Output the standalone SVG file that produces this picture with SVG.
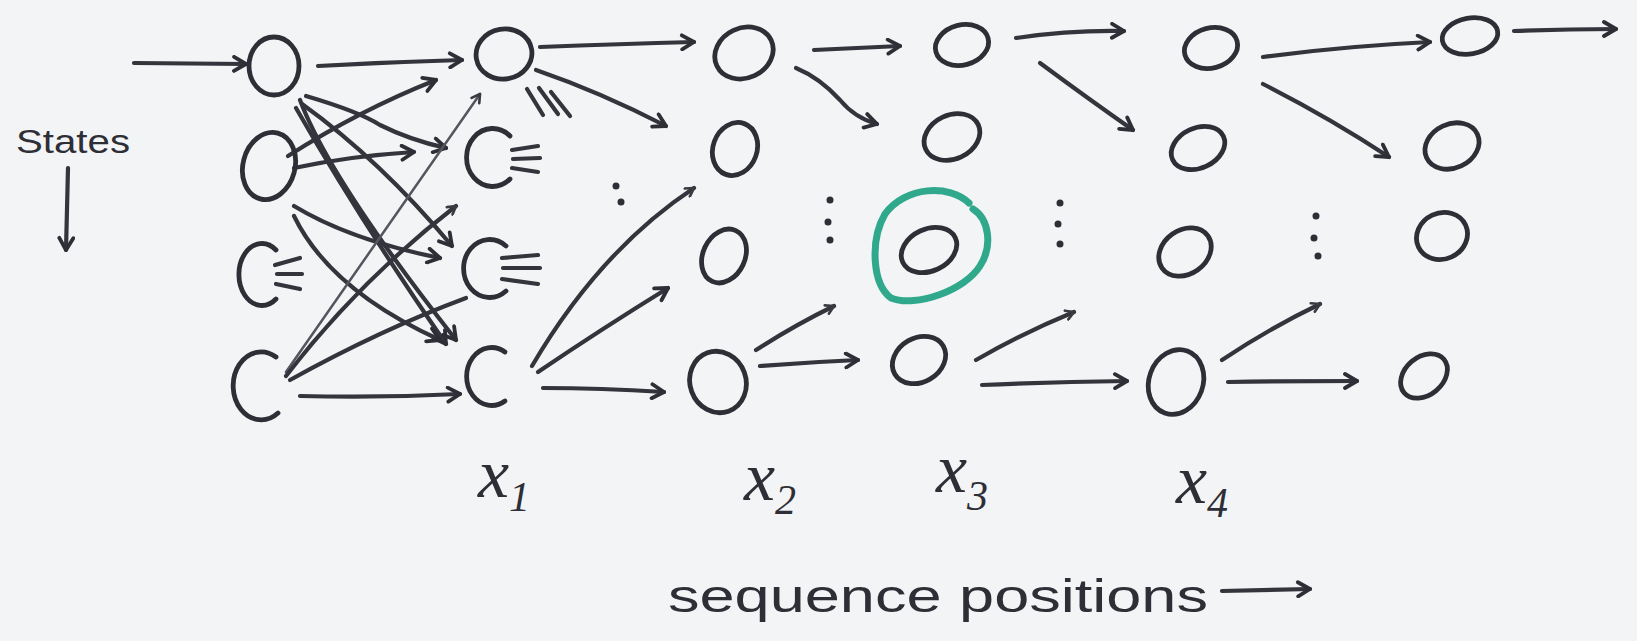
<svg xmlns="http://www.w3.org/2000/svg" width="1637" height="641" viewBox="0 0 1637 641">
<style>
.bg{fill:#f3f4f6}
.n{fill:none;stroke:#2e2e36;stroke-width:4.8;stroke-linecap:round;stroke-linejoin:round}
.e{fill:none;stroke:#34343c;stroke-width:4.2;stroke-linecap:round;stroke-linejoin:round}
.thin{fill:none;stroke:#55555f;stroke-width:2.5;stroke-linecap:round}
.dot{fill:#2e2e36}
.hl{fill:none;stroke:#2fa88c;stroke-width:7;stroke-linejoin:round;stroke-linecap:round}
.lbl{font-family:"Liberation Serif",serif;font-style:italic;fill:#2e2e36}
.hand{font-family:"Liberation Sans",sans-serif;fill:#2e2e36}
</style>
<defs>
<marker id="ah" viewBox="0 0 18 18" refX="15" refY="9" markerWidth="18" markerHeight="18" markerUnits="userSpaceOnUse" orient="auto">
<path d="M3,2 L15,9 L3,16" fill="none" stroke="#2e2e36" stroke-width="3.8" stroke-linecap="round" stroke-linejoin="round"/>
</marker>
<marker id="ahs" viewBox="0 0 18 18" refX="15" refY="9" markerWidth="12" markerHeight="12" markerUnits="userSpaceOnUse" orient="auto">
<path d="M3,2 L15,9 L3,16" fill="none" stroke="#3a3a42" stroke-width="4" stroke-linecap="round" stroke-linejoin="round"/>
</marker>
</defs>
<rect class="bg" x="0" y="0" width="1637" height="641"/>

<g id="connectors">
<!-- incoming -->
<path class="e" d="M134,63 L246,64" marker-end="url(#ah)"/>
<!-- col0 -> col1 -->
<path class="e" d="M318,66 Q390,62 462,60" marker-end="url(#ah)"/>
<path class="e" d="M306,96 Q360,112 380,125 Q410,140 446,148" marker-end="url(#ah)"/>
<path class="e" d="M302,104 Q380,160 452,246" marker-end="url(#ah)"/>
<path class="e" d="M296,108 Q360,220 446,344" marker-end="url(#ah)"/>
<path class="e" d="M300,100 Q330,180 456,340" marker-end="url(#ah)"/>
<path class="e" d="M288,156 Q360,110 436,80" marker-end="url(#ah)"/>
<path class="e" d="M294,168 Q350,156 414,152" marker-end="url(#ah)"/>
<path class="e" d="M294,206 Q350,240 440,258" marker-end="url(#ah)"/>
<path class="e" d="M294,216 Q330,290 440,340" marker-end="url(#ah)"/>
<path class="thin" d="M286,372 L480,94" marker-end="url(#ahs)"/>
<path class="e" d="M286,376 Q360,280 456,206" marker-end="url(#ahs)"/>
<path class="e" d="M290,380 Q380,330 466,298"/>
<path class="e" d="M300,396 Q380,398 460,394" marker-end="url(#ah)"/>
<!-- col1 -> col2 -->
<path class="e" d="M540,47 Q620,44 694,42" marker-end="url(#ah)"/>
<path class="e" d="M536,70 Q600,92 666,126" marker-end="url(#ah)"/>
<path class="e" d="M532,366 Q600,250 694,188" marker-end="url(#ahs)"/>
<path class="e" d="M538,372 Q600,330 668,288" marker-end="url(#ah)"/>
<path class="e" d="M543,388 Q600,388 664,392" marker-end="url(#ah)"/>
<!-- col2 -> col3 -->
<path class="e" d="M814,50 Q860,48 900,46" marker-end="url(#ah)"/>
<path class="e" d="M796,68 Q820,78 840,100 Q855,118 877,124" marker-end="url(#ah)"/>
<path class="e" d="M756,350 Q795,325 834,306" marker-end="url(#ahs)"/>
<path class="e" d="M760,366 Q810,362 858,360" marker-end="url(#ah)"/>
<!-- col3 -> col4 -->
<path class="e" d="M1016,38 Q1070,30 1124,31" marker-end="url(#ah)"/>
<path class="e" d="M1040,63 Q1090,100 1133,130" marker-end="url(#ah)"/>
<path class="e" d="M976,360 Q1025,332 1074,312" marker-end="url(#ahs)"/>
<path class="e" d="M982,385 Q1055,382 1127,381" marker-end="url(#ah)"/>
<!-- col4 -> col5 -->
<path class="e" d="M1263,57 Q1345,46 1430,42" marker-end="url(#ah)"/>
<path class="e" d="M1263,84 Q1330,118 1389,157" marker-end="url(#ah)"/>
<path class="e" d="M1222,360 Q1270,328 1320,304" marker-end="url(#ahs)"/>
<path class="e" d="M1228,382 Q1292,381 1357,381" marker-end="url(#ah)"/>
<!-- outgoing -->
<path class="e" d="M1514,31 Q1565,29 1616,29" marker-end="url(#ah)"/>
</g>

<g id="stubs">
<path class="e" d="M527,89 L543,115 M539,88 L558,114 M551,92 L570,116"/>
<path class="e" d="M512,150 L538,146 M513,159 L540,158 M512,168 L538,172"/>
<path class="e" d="M502,258 L538,255 M503,268 L540,268 M502,279 L538,284"/>
<path class="e" d="M275,265 L300,258 M277,274 L302,274 M276,284 L300,289"/>
</g>

<g id="dots">
<circle class="dot" cx="616" cy="186" r="3.5"/><circle class="dot" cx="621" cy="202" r="3.5"/>
<circle class="dot" cx="830" cy="200" r="3.5"/><circle class="dot" cx="828" cy="222" r="3.5"/><circle class="dot" cx="830" cy="240" r="3.5"/>
<circle class="dot" cx="1060" cy="203" r="3.5"/><circle class="dot" cx="1058" cy="224" r="3.5"/><circle class="dot" cx="1060" cy="244" r="3.5"/>
<circle class="dot" cx="1316" cy="216" r="3.5"/><circle class="dot" cx="1314" cy="238" r="3.5"/><circle class="dot" cx="1318" cy="256" r="3.5"/>
</g>

<g id="n0_0"><ellipse class="n" cx="274" cy="66" rx="25" ry="29"/></g>
<g id="n0_1"><ellipse class="n" cx="269" cy="166" rx="26" ry="34" transform="rotate(15 269 166)"/></g>
<g id="n0_2"><path class="n" d="M276,250 A23,31 0 1 0 276,299"/></g>
<g id="n0_3"><path class="n" d="M276,357 A28,34 0 1 0 278,413"/></g>

<g id="n1_0"><ellipse class="n" cx="504" cy="54" rx="28" ry="25" transform="rotate(-10 504 54)"/></g>
<g id="n1_1"><path class="n" d="M510,136 A26,29 0 1 0 510,179"/></g>
<g id="n1_2"><path class="n" d="M506,246 A26,29 0 1 0 506,291"/></g>
<g id="n1_3"><path class="n" d="M505,352 A25,29 0 1 0 505,401"/></g>

<g id="n2_0"><ellipse class="n" cx="744" cy="53" rx="30" ry="25" transform="rotate(-25 744 53)"/></g>
<g id="n2_1"><ellipse class="n" cx="735" cy="149" rx="22" ry="27" transform="rotate(20 735 149)"/></g>
<g id="n2_2"><ellipse class="n" cx="724" cy="256" rx="21" ry="28" transform="rotate(25 724 256)"/></g>
<g id="n2_3"><ellipse class="n" cx="718" cy="382" rx="28" ry="31" transform="rotate(-20 718 382)"/></g>

<g id="n3_0"><ellipse class="n" cx="962" cy="45" rx="27" ry="20" transform="rotate(-15 962 45)"/></g>
<g id="n3_1"><ellipse class="n" cx="952" cy="137" rx="29" ry="22" transform="rotate(-25 952 137)"/></g>
<g id="n3_2"><path class="hl" d="M969,203 C950,184 905,186 885,214 C870,240 872,284 891,298 C916,308 965,290 980,266 C993,246 989,219 973,209"/><ellipse class="n" cx="929" cy="250" rx="29" ry="21" transform="rotate(-25 929 250)"/></g>
<g id="n3_3"><ellipse class="n" cx="919" cy="360" rx="28" ry="22" transform="rotate(-30 919 360)"/></g>

<g id="n4_0"><ellipse class="n" cx="1211" cy="48" rx="27" ry="20" transform="rotate(-15 1211 48)"/></g>
<g id="n4_1"><ellipse class="n" cx="1198" cy="148" rx="28" ry="20" transform="rotate(-25 1198 148)"/></g>
<g id="n4_2"><ellipse class="n" cx="1185" cy="252" rx="28" ry="22" transform="rotate(-35 1185 252)"/></g>
<g id="n4_3"><ellipse class="n" cx="1176" cy="382" rx="27" ry="33" transform="rotate(20 1176 382)"/></g>

<g id="n5_0"><ellipse class="n" cx="1470" cy="36" rx="28" ry="18" transform="rotate(-10 1470 36)"/></g>
<g id="n5_1"><ellipse class="n" cx="1452" cy="146" rx="28" ry="22" transform="rotate(-25 1452 146)"/></g>
<g id="n5_2"><ellipse class="n" cx="1442" cy="236" rx="26" ry="23" transform="rotate(-25 1442 236)"/></g>
<g id="n5_3"><ellipse class="n" cx="1424" cy="376" rx="26" ry="19" transform="rotate(-40 1424 376)"/></g>

<g id="labels">
<text class="hand" x="16" y="153" font-size="34" textLength="114" lengthAdjust="spacingAndGlyphs">States</text>
<path class="e" d="M68,168 L66,250" marker-end="url(#ah)"/>
<text class="lbl" x="478" y="497" font-size="70">x<tspan font-size="42" dy="14">1</tspan></text>
<text class="lbl" x="744" y="500" font-size="70">x<tspan font-size="42" dy="14">2</tspan></text>
<text class="lbl" x="936" y="492" font-size="70">x<tspan font-size="42" dy="18">3</tspan></text>
<text class="lbl" x="1176" y="503" font-size="70">x<tspan font-size="42" dy="14">4</tspan></text>
<text class="hand" x="668" y="612" font-size="46" textLength="540" lengthAdjust="spacingAndGlyphs">sequence positions</text>
<path class="e" d="M1222,591 L1310,589" marker-end="url(#ah)"/>
</g>
</svg>
